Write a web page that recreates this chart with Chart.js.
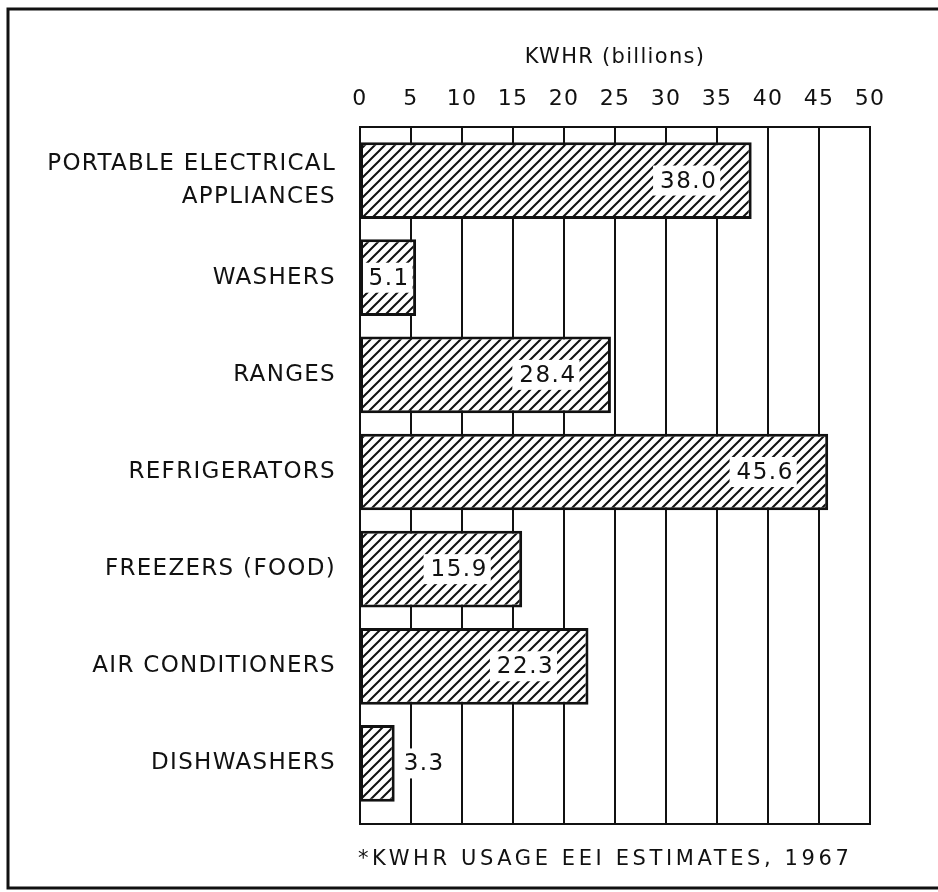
<!DOCTYPE html>
<html>
<head>
<meta charset="utf-8">
<script src="https://cdn.jsdelivr.net/npm/chart.js@4.4.0/dist/chart.umd.min.js"></script>
<style>
  body { margin: 0; background: #fff; }
  canvas { display: block; }
</style>
</head>
<body>
<canvas id="myChart" width="938" height="892"></canvas>
<script>
// data
const categories = [
  ['PORTABLE ELECTRICAL', 'APPLIANCES'],
  'WASHERS',
  'RANGES',
  'REFRIGERATORS',
  'FREEZERS (FOOD)',
  'AIR CONDITIONERS',
  'DISHWASHERS'
];
// bar lengths as drawn in the original (the RANGES bar is drawn short of its printed value)
const barLengths = [38.4, 5.5, 24.6, 45.9, 15.9, 22.4, 3.4];
// values printed on the bars
const printedValues = ['38.0', '5.1', '28.4', '45.6', '15.9', '22.3', '3.3'];
const tickValues = [0, 5, 10, 15, 20, 25, 30, 35, 40, 45, 50];
const axisTitle = 'KWHR (billions)';
const footnote = '*KWHR USAGE EEI ESTIMATES, 1967';

const INK = '#111';
const FONT = '"DejaVu Sans", sans-serif';

// diagonal "/" hatch on white
function makeHatch() {
  const c = document.createElement('canvas');
  c.width = 10; c.height = 10;
  const g = c.getContext('2d');
  g.fillStyle = '#fff';
  g.fillRect(0, 0, 10, 10);
  g.strokeStyle = INK;
  g.lineWidth = 2;
  g.beginPath();
  g.moveTo(-2, 12); g.lineTo(12, -2);
  g.moveTo(-7, 7); g.lineTo(7, -7);
  g.moveTo(3, 17); g.lineTo(17, 3);
  g.stroke();
  return g.createPattern(c, 'repeat');
}

const spacing = {
  id: 'spacing',
  beforeDraw(chart) { chart.ctx.letterSpacing = '1.3px'; },
  afterDraw(chart) { chart.ctx.letterSpacing = '0px'; }
};

// boxed vertical grid behind the bars
const gridBox = {
  id: 'gridBox',
  beforeDatasetsDraw(chart) {
    const { ctx, chartArea, scales: { x } } = chart;
    const top = chartArea.top - 5;
    const bottom = chartArea.bottom + 12;
    const x0 = x.getPixelForValue(tickValues[0]);
    const x1 = x.getPixelForValue(tickValues[tickValues.length - 1]);
    ctx.save();
    ctx.strokeStyle = INK;
    ctx.lineWidth = 2;
    ctx.beginPath();
    tickValues.forEach(v => {
      const px = Math.round(x.getPixelForValue(v));
      ctx.moveTo(px, top);
      ctx.lineTo(px, bottom);
    });
    ctx.moveTo(x0 - 1, top); ctx.lineTo(x1 + 1, top);
    ctx.moveTo(x0 - 1, bottom); ctx.lineTo(x1 + 1, bottom);
    ctx.stroke();
    ctx.restore();
  }
};

// value labels on a white patch
const valueLabels = {
  id: 'valueLabels',
  afterDatasetsDraw(chart) {
    const { ctx } = chart;
    const meta = chart.getDatasetMeta(0);
    ctx.save();
    ctx.font = '23px ' + FONT;
    ctx.letterSpacing = '1.5px';
    ctx.textAlign = 'center';
    ctx.textBaseline = 'middle';
    meta.data.forEach((bar, i) => {
      const txt = printedValues[i];
      const w = ctx.measureText(txt).width;
      const len = bar.x - bar.base;
      let cx, left, right;
      if (len > 100) {
        cx = bar.x - 64;
      } else if (len > w) {
        cx = (bar.x + bar.base) / 2;
      } else {
        cx = bar.x + 8 + w / 2;
      }
      left = cx - w / 2 - 6;
      right = cx + w / 2 + 4;
      if (len > w) {
        left = Math.max(left, bar.base + 3);
        right = Math.min(right, bar.x - 3);
      }
      ctx.fillStyle = '#fff';
      ctx.fillRect(left, bar.y - 15, right - left, 30);
      ctx.fillStyle = INK;
      ctx.fillText(txt, cx + 1, bar.y + 1);
    });
    ctx.restore();
  }
};

// footnote and outer frame
const frame = {
  id: 'frame',
  afterDraw(chart) {
    const { ctx, scales: { x } } = chart;
    ctx.save();
    ctx.letterSpacing = '3.6px';
    ctx.font = '21px ' + FONT;
    ctx.fillStyle = INK;
    ctx.textAlign = 'left';
    ctx.textBaseline = 'middle';
    ctx.fillText(footnote, x.left - 2, 860);
    ctx.strokeStyle = INK;
    ctx.lineWidth = 3;
    ctx.strokeRect(8, 9, 940, 879);
    ctx.restore();
  }
};

const ctx = document.getElementById('myChart').getContext('2d');
const myChart = new Chart(ctx, {
  type: 'bar',
  data: {
    labels: categories,
    datasets: [{
      data: barLengths,
      backgroundColor: makeHatch(),
      borderColor: INK,
      borderWidth: 3,
      borderSkipped: false,
      barPercentage: 0.79,
      categoryPercentage: 1
    }]
  },
  plugins: [spacing, gridBox, valueLabels, frame],
  options: {
    indexAxis: 'y',
    responsive: false,
    animation: false,
    layout: { padding: { top: 0, left: 0, right: 68, bottom: 80 } },
    plugins: {
      legend: { display: false },
      tooltip: { enabled: false }
    },
    scales: {
      x: {
        position: 'top',
        min: 0,
        max: 50,
        afterFit(scale) { scale.height = 132; },
        ticks: {
          stepSize: 5,
          color: INK,
          padding: 20,
          font: { family: FONT, size: 22 }
        },
        title: {
          display: true,
          text: axisTitle,
          color: INK,
          padding: { top: 45, bottom: 0 },
          font: { family: FONT, size: 21 }
        },
        grid: { display: false, drawTicks: false },
        border: { display: false }
      },
      y: {
        afterFit(scale) { scale.width = 360; },
        ticks: {
          color: INK,
          padding: 24,
          font: { family: FONT, size: 23, lineHeight: 1.45 }
        },
        grid: { display: false, drawTicks: false },
        border: { display: false }
      }
    }
  }
});
</script>
</body>
</html>
